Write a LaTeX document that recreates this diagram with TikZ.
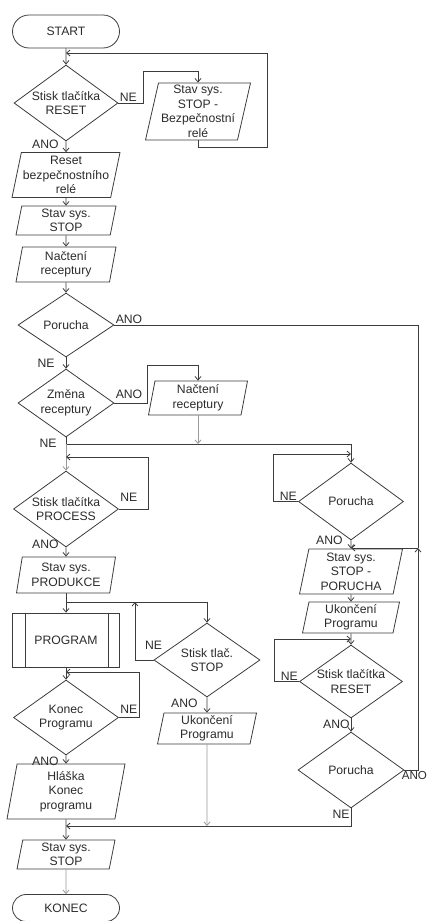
\documentclass[tikz,border=0pt]{standalone}
\usepackage{fontspec}
\setmainfont{Liberation Sans}
\usepackage{tikz}
\usetikzlibrary{arrows.meta,positioning,shapes.geometric,shapes.misc}
\definecolor{ink}{HTML}{2B2B2B}
\definecolor{edge}{HTML}{3C3C3C}
\definecolor{faint}{HTML}{9A9A9A}
\tikzset{
  base/.style={draw=edge,line width=0.8pt,text=ink,align=center,
    font=\fontsize{12.2}{14.5}\selectfont,inner sep=0pt},
  termbox/.style={base,rounded rectangle,minimum width=107pt},
  decbox/.style={base,diamond,aspect=1.4},
  iobox/.style={base,trapezium,trapezium left angle=76,trapezium right angle=104,
    trapezium stretches body},
  procbox/.style={base,rectangle,minimum width=107pt,minimum height=54pt},
  flowline/.style={draw=edge,line width=0.8pt},
  flowarr/.style={flowline,-{Straight Barb[length=3.5pt,width=6pt]}},
  fadearr/.style={flowarr,draw=faint},
  lbl/.style={font=\fontsize{12.2}{14.5}\selectfont,text=ink,inner sep=1pt},
}
\begin{document}
\begin{tikzpicture}[x=1pt,y=-1pt]
  \useasboundingbox (0,0) rectangle (427,921);

  \node[termbox,minimum height=33pt] (start) at (66,31.5) {START};
  \node[decbox,minimum width=104pt,minimum height=76pt] (rst1) at (66,103) {Stisk tlačítka\\RESET};
  \node[iobox,minimum width=105pt,minimum height=57pt] (relay) at (198,111.5) {Stav sys.\\STOP -\\Bezpečnostní\\relé};
  \node[iobox,minimum width=108pt,minimum height=45pt] (rstrelay) at (66,175) {Reset\\bezpečnostního\\relé};
  \node[iobox,minimum width=100pt,minimum height=29pt] (stop1) at (66,220.5) {Stav sys.\\STOP};
  \node[iobox,minimum width=100pt,minimum height=35pt] (recipe1) at (66,264.5) {Načtení\\receptury};
  \node[decbox,minimum width=96pt,minimum height=64pt] (fault1) at (66,325) {Porucha};
  \node[decbox,minimum width=96pt,minimum height=68pt] (change) at (66,403) {Změna\\receptury};
  \node[iobox,minimum width=99pt,minimum height=34pt] (recipe2) at (198,398) {Načtení\\receptury};
  \node[decbox,minimum width=105pt,minimum height=76pt] (proc) at (66,509) {Stisk tlačítka\\PROCESS};
  \node[iobox,minimum width=99pt,minimum height=36pt] (prod) at (66,575) {Stav sys.\\PRODUKCE};
  \node[procbox] (prog) at (66,640) {PROGRAM};
  \node[decbox,minimum width=105pt,minimum height=75pt] (endq) at (66,717.5) {Konec\\Programu};
  \node[iobox,minimum width=118pt,minimum height=55pt] (msg) at (66,791.5) {Hláška\\Konec\\programu};
  \node[iobox,minimum width=98pt,minimum height=29pt] (stop2) at (66,854.5) {Stav sys.\\STOP};
  \node[termbox,minimum height=27pt] (finish) at (66,908) {KONEC};
  \node[decbox,minimum width=106pt,minimum height=74pt] (stopq) at (207,660) {Stisk tlač.\\STOP};
  \node[iobox,minimum width=99pt,minimum height=31pt] (quit1) at (207,728.5) {Ukončení\\Programu};
  \node[decbox,minimum width=105pt,minimum height=77pt] (fault2) at (351,501.5) {Porucha};
  \node[iobox,minimum width=103pt,minimum height=45pt] (stopfault) at (351,571.5) {Stav sys.\\STOP -\\PORUCHA};
  \node[iobox,minimum width=97pt,minimum height=31pt] (quit2) at (351,617.5) {Ukončení\\Programu};
  \node[decbox,minimum width=103pt,minimum height=73pt] (rst2) at (351,681.5) {Stisk tlačítka\\RESET};
  \node[decbox,minimum width=106pt,minimum height=76pt] (fault3) at (351,770) {Porucha};

  \draw[flowline] ([xshift=13pt]prog.north west) -- ([xshift=13pt]prog.south west);
  \draw[flowline] ([xshift=-12pt]prog.north east) -- ([xshift=-12pt]prog.south east);

  \coordinate (back1) at (66,53);
  \coordinate (merge1) at (66,444);
  \coordinate (back2) at (66,457);
  \coordinate (split1) at (66,602);
  \coordinate (stopback) at (135,602);
  \coordinate (back3) at (66,672);
  \coordinate (merge2) at (66,826);
  \coordinate (faultin) at (418,548);
  \coordinate (back4) at (351,454);
  \coordinate (back5) at (351,639);

  \draw[flowarr] (start) -- (rst1);
  \draw[flowarr] (rst1.east) node[lbl,above right] (l1) {NE} -| (143,71) -| (relay.north);
  \draw[flowarr] (relay.south) |- (267,147) |- (back1);
  \draw[flowarr] (rst1.south) node[lbl,left,xshift=-6pt,yshift=-3pt] (l2) {ANO} -- (rstrelay);
  \draw[flowarr] (rstrelay) -- (stop1);
  \draw[flowarr] (stop1) -- (recipe1);
  \draw[flowarr] (recipe1) -- (fault1);
  \draw[flowline] (fault1.east) node[lbl,above right] (l3) {ANO} -| (faultin);
  \draw[flowarr] (fault1.south) node[lbl,below left,xshift=-10pt] (l4) {NE} -- (change);
  \draw[flowarr] (change.east) node[lbl,above right,yshift=3pt] (l5) {ANO} -| (147,365) -| (recipe2.north);
  \draw[flowline] (change.south) node[lbl,below left,xshift=-8pt] (l6) {NE} -- (merge1);
  \draw[fadearr] (recipe2) -- (recipe2 |- merge1);
  \draw[flowarr] (merge1) -| (fault2.north);
  \draw[fadearr] (merge1) -- (proc);
  \draw[flowarr] (proc.east) node[lbl,above right,yshift=6pt] (l7) {NE} -| (148,457) -- (back2);
  \draw[flowarr] (proc.south) node[lbl,left,xshift=-6pt,yshift=3pt] (l8) {ANO} -- (prod);
  \draw[flowline] (prod) -- (split1);
  \draw[flowarr] (split1) -- (prog);
  \draw[flowarr] (split1) -| (stopq.north);
  \draw[flowarr] (stopq.west) node[lbl,above,yshift=9pt] (l9) {NE} -| (stopback);
  \draw[flowarr] (stopq.south) node[lbl,below left,xshift=-8pt] (l10) {ANO} -- (quit1);
  \draw[fadearr] (quit1) -- (quit1 |- merge2);
  \draw[flowarr] (prog) -- (endq);
  \draw[flowarr] (endq.east) node[lbl,above right,yshift=3pt] (l11) {NE} -| (139,672) -- (back3);
  \draw[flowarr] (endq.south) node[lbl,below left,xshift=-6pt] (l12) {ANO} -- (msg);
  \draw[flowarr] (msg) -- (stop2);
  \draw[fadearr] (stop2) -- (finish);

  \draw[flowarr] (fault2.west) node[lbl,above left] (l13) {NE} -| (273,454) -- (back4);
  \draw[flowarr] (fault2.south) node[lbl,left,xshift=-7pt] (l14) {ANO} -- (stopfault);
  \draw[flowarr] (faultin) -- (faultin -| stopfault.north);
  \draw[flowarr] (stopfault) -- (quit2);
  \draw[flowarr] (quit2) -- (rst2);
  \draw[flowarr] (rst2.west) node[lbl,above left] (l15) {NE} -| (274,639) -- (back5);
  \draw[flowarr] (rst2.south) node[lbl,below left] (l16) {ANO} -- (fault3);
  \draw[flowarr] (fault3.east) node[lbl,below right,xshift=-4pt,font=\fontsize{11.6}{14}\selectfont] (l17) {ANO} -| (faultin);
  \draw[flowarr] (fault3.south) node[lbl,below left] (l18) {NE} |- (merge2);
\end{tikzpicture}
\end{document}
